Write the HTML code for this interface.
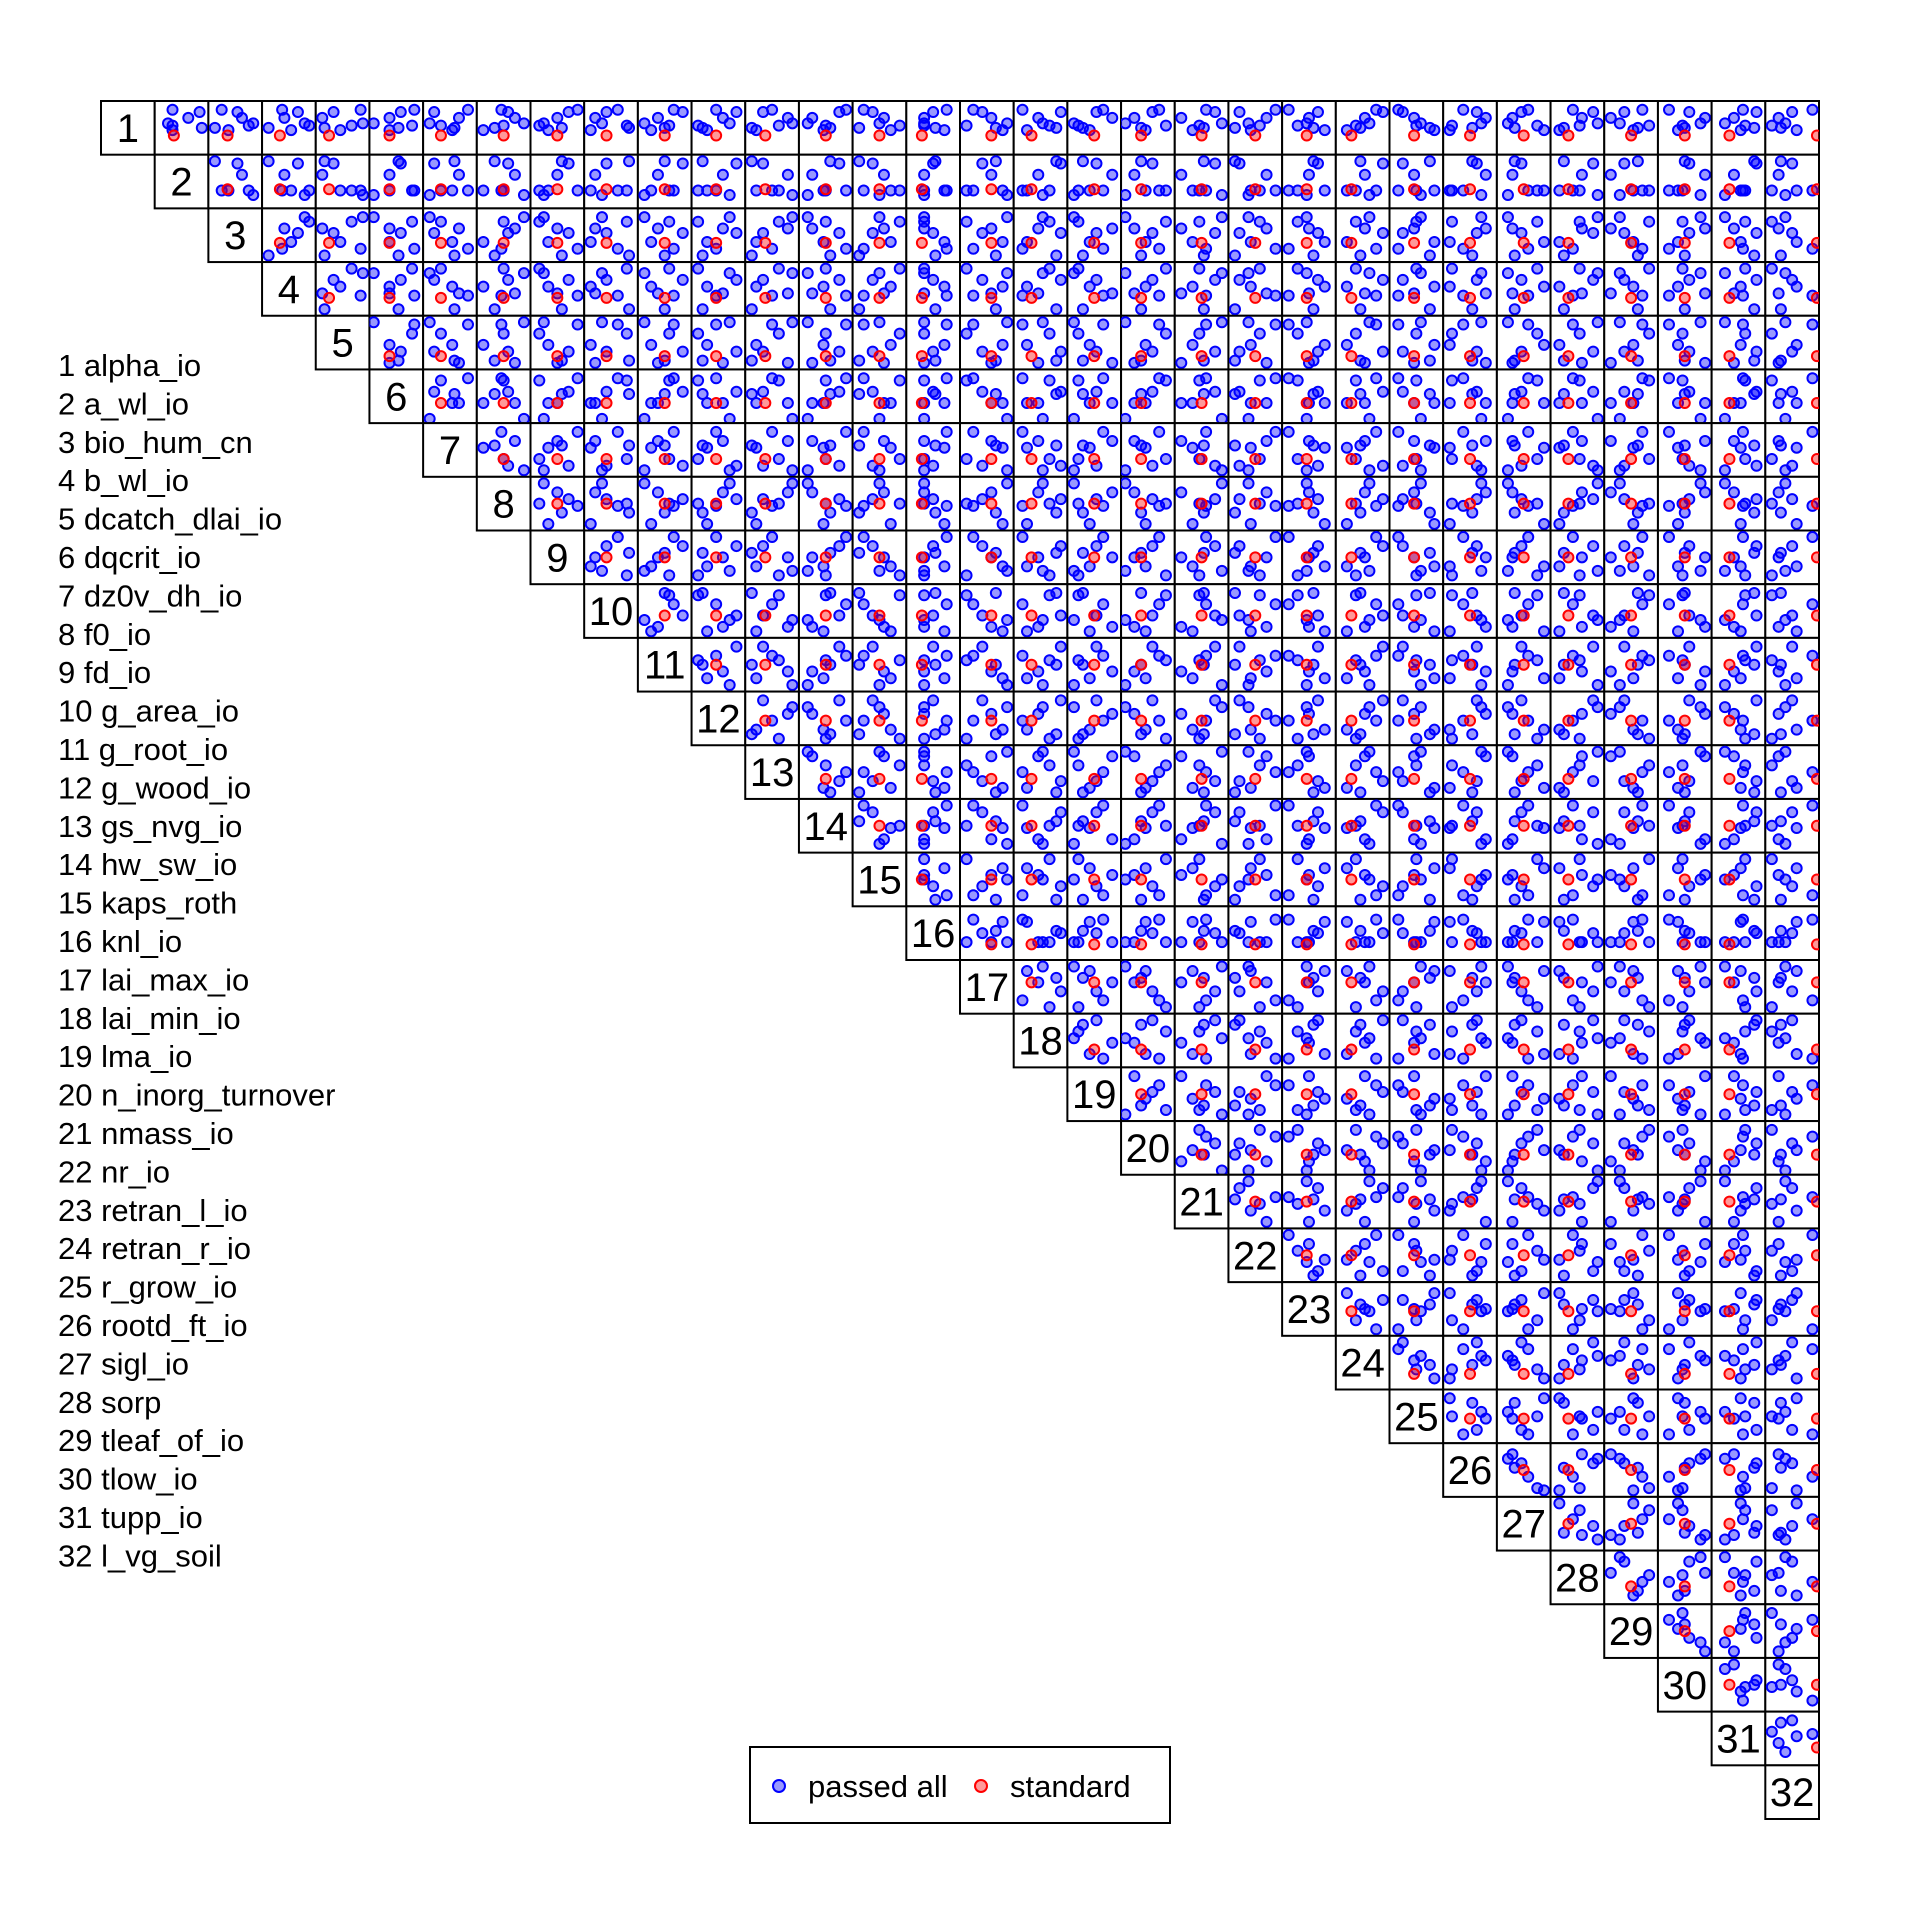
<!DOCTYPE html>
<html><head><meta charset="utf-8"><style>
html,body{margin:0;padding:0;background:#fff}
svg{display:block;font-family:"Liberation Sans",sans-serif}
</style></head><body>
<svg id="chart" width="1920" height="1920" viewBox="0 0 1920 1920" xmlns="http://www.w3.org/2000/svg">
<g id="panels"></g>
<g id="names"></g>
<g>
<rect x="750" y="1747" width="420" height="76" fill="#fff" stroke="#000" stroke-width="2"/>
<circle cx="779" cy="1786" r="6" fill="rgba(0,0,255,0.4)" stroke="#00f" stroke-width="2"/>
<text x="808" y="1797" font-size="31">passed all</text>
<circle cx="981" cy="1786" r="6" fill="rgba(255,0,0,0.4)" stroke="#f00" stroke-width="2"/>
<text x="1010" y="1797" font-size="31">standard</text>
</g>
</svg>
<script>
const paramNames = ["alpha_io","a_wl_io","bio_hum_cn","b_wl_io","dcatch_dlai_io","dqcrit_io","dz0v_dh_io","f0_io","fd_io","g_area_io","g_root_io","g_wood_io","gs_nvg_io","hw_sw_io","kaps_roth","knl_io","lai_max_io","lai_min_io","lma_io","n_inorg_turnover","nmass_io","nr_io","retran_l_io","retran_r_io","r_grow_io","rootd_ft_io","sigl_io","sorp","tleaf_of_io","tlow_io","tupp_io","l_vg_soil"];
// blue ("passed all") sample values per parameter, normalised 0..1
const passedValues = [
[0.55,0.85,0.72,0.45,0.9,0.6,0.5],
[0.3,0.9,0.65,0.3,0.3,0.2,0.95],
[0.8,0.55,0.65,0.35,0.2,0.9,0.05],
[0.95,0.7,0.4,0.55,0.35,0.85,0.05],
[0.7,0.3,0.05,0.45,0.9,0.95,0.1],
[0.85,0.6,0.35,0.35,0.9,0.0,0.55],
[0.3,0.15,0.7,0.55,0.9,0.05,0.6],
[0.5,0.6,0.75,0.05,0.45,0.95,0.3],
[0.1,0.75,0.5,0.3,0.95,0.2,0.6],
[0.85,0.4,0.15,0.05,0.65,0.3,0.9],
[0.6,0.9,0.35,0.2,0.7,0.05,0.5],
[0.05,0.9,0.6,0.25,0.45,0.75,0.15],
[0.65,0.3,0.85,0.15,0.5,0.95,0.05],
[0.5,0.8,0.2,0.45,0.95,0.1,0.6],
[0.95,0.35,0.6,0.75,0.15,0.5,0.05],
[0.3,0.5,0.3,0.75,0.8,0.3,0.55],
[0.05,0.4,0.6,0.85,0.2,0.95,0.7],
[0.7,0.95,0.45,0.2,0.1,0.55,0.85],
[0.15,0.55,0.9,0.4,0.7,0.05,0.25],
[0.9,0.6,0.2,0.45,0.75,0.0,0.35],
[0.45,0.8,0.05,0.3,0.6,0.95,0.55],
[0.6,0.15,0.75,0.4,0.95,0.35,0.05],
[0.25,0.7,0.5,0.85,0.05,0.45,0.6],
[0.35,0.95,0.55,0.15,0.8,0.65,0.45],
[0.5,0.2,0.45,0.9,0.1,0.6,0.8],
[0.1,0.65,0.85,0.05,0.35,0.75,0.55],
[0.8,0.45,0.25,0.95,0.6,0.15,0.3],
[0.55,0.85,0.6,0.1,0.4,0.95,0.2],
[0.9,0.35,0.05,0.55,0.75,0.25,0.65],
[0.45,0.6,0.95,0.35,0.15,0.85,0.5],
[0.65,0.9,0.4,0.55,0.6,0.2,0.85],
[0.05,0.5,0.2,0.6,0.95,0.35,0.25]
];
// red ("standard") value per parameter
const standardValues = [0.33,0.33,0.33,0.3,0.2,0.35,0.3,0.5,0.5,0.4,0.5,0.45,0.35,0.5,0.5,0.25,0.6,0.3,0.5,0.35,0.5,0.5,0.45,0.25,0.45,0.5,0.5,0.3,0.5,0.5,0.3,1.05];

const NS="http://www.w3.org/2000/svg";
const G0=101, CW=(1819-101)/32;
function cellX(j){return G0+j*CW;}
function cellY(i){return G0+i*CW;}
function sx(j,v){return cellX(j)+CW*(0.08+0.84*v);}
function sy(i,v){return cellY(i)+CW*(0.92-0.84*v);}
const panels=document.getElementById('panels');
const n=paramNames.length;
for(let i=0;i<n;i++){
  for(let j=i;j<n;j++){
    const r=document.createElementNS(NS,'rect');
    r.setAttribute('x',cellX(j));r.setAttribute('y',cellY(i));
    r.setAttribute('width',CW);r.setAttribute('height',CW);
    r.setAttribute('fill','#fff');r.setAttribute('stroke','#000');r.setAttribute('stroke-width','2');
    
    
    panels.appendChild(r);
    if(i===j){
      const t=document.createElementNS(NS,'text');
      t.setAttribute('x',cellX(j)+CW/2);t.setAttribute('y',cellY(i)+CW/2+14);
      t.setAttribute('text-anchor','middle');t.setAttribute('font-size','40');
      t.textContent=String(i+1);
      
      
      panels.appendChild(t);
      continue;
    }
    const s=document.createElementNS(NS,'svg');
    s.setAttribute('x',cellX(j));s.setAttribute('y',cellY(i));
    s.setAttribute('width',CW);s.setAttribute('height',CW);
    s.setAttribute('viewBox',cellX(j)+' '+cellY(i)+' '+CW+' '+CW);
    s.setAttribute('overflow','hidden');
    
    
    const xs=passedValues[j], ys=passedValues[i];
    for(let k=0;k<xs.length;k++){
      const c=document.createElementNS(NS,'circle');
      c.setAttribute('cx',sx(j,xs[k]));c.setAttribute('cy',sy(i,ys[k]));c.setAttribute('r','5');
      c.setAttribute('fill','rgba(0,0,255,0.4)');c.setAttribute('stroke','#00f');c.setAttribute('stroke-width','2');
      
      
      s.appendChild(c);
    }
    const c=document.createElementNS(NS,'circle');
    c.setAttribute('cx',sx(j,standardValues[j]));c.setAttribute('cy',sy(i,standardValues[i]));c.setAttribute('r','5');
    c.setAttribute('fill','rgba(255,0,0,0.4)');c.setAttribute('stroke','#f00');c.setAttribute('stroke-width','2');
    
    
    s.appendChild(c);
    panels.appendChild(s);
  }
}
const names=document.getElementById('names');
for(let i=0;i<n;i++){
  const t=document.createElementNS(NS,'text');
  t.setAttribute('x',58);t.setAttribute('y',376+i*38.4);t.setAttribute('font-size','31');
  t.textContent=(i+1)+' '+paramNames[i];
  
  
  names.appendChild(t);
}
</script>
</body></html>
